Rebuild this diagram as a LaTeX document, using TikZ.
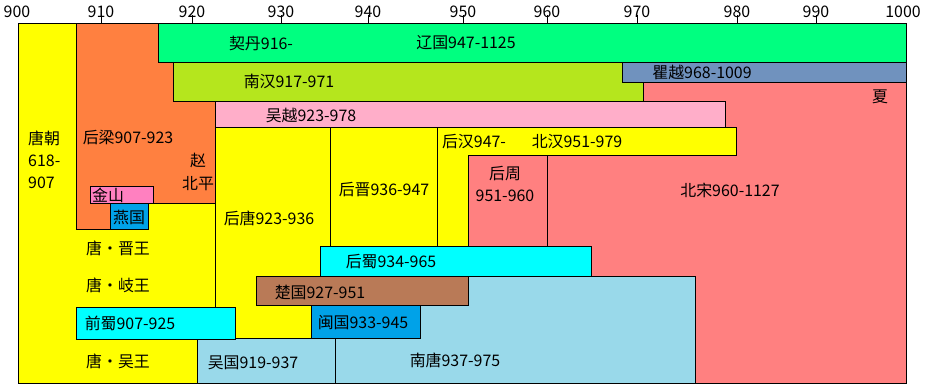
\documentclass[tikz,border=0pt]{standalone}
\usepackage{fontspec}
\setmainfont{Noto Sans CJK SC}
\definecolor{tangyellow}{HTML}{FFFF00}
\definecolor{liangorange}{HTML}{FF8040}
\definecolor{liaogreen}{HTML}{00FF80}
\definecolor{hanlime}{HTML}{B5E61D}
\definecolor{vietblue}{HTML}{7092BE}
\definecolor{wuyuepink}{HTML}{FFAEC9}
\definecolor{songred}{HTML}{FF8080}
\definecolor{jinshanpink}{HTML}{FF80C0}
\definecolor{yanblue}{HTML}{00A2E8}
\definecolor{shucyan}{HTML}{00FFFF}
\definecolor{chubrown}{HTML}{B97A57}
\definecolor{tanglightblue}{HTML}{99D9EA}
\tikzset{
  region/.style={draw=black, line width=0.8pt},
  tick/.style={line width=0.8pt},
  txt/.style={font=\fontsize{13.6pt}{19pt}\selectfont, inner sep=0pt},
  yeartxt/.style={font=\fontsize{13.6pt}{16pt}\selectfont, inner sep=0pt}
}
\begin{document}
\begin{tikzpicture}[x=0.03cm, y=-0.03cm]
  \useasboundingbox (0,0) rectangle (927,391);

  % Time axis
  \foreach \yr/\px in {900/17,910/101,920/192,930/281,940/368,950/463,960/547,970/637,980/737,990/816,1000/903}
    \node[yeartxt] (y\yr) at (\px,12) {\yr};

  % Tang background
  \filldraw[region, fill=tangyellow] (18,23) rectangle (906,383);

  % Northern Song
  \filldraw[region, fill=songred] (468,82) rectangle (906,383);

  % Later Liang
  \filldraw[region, fill=liangorange] (76,23) -- (215,23) -- (215,203) -- (110,203) -- (110,229) -- (76,229) -- cycle;

  % Khitan / Liao
  \filldraw[region, fill=liaogreen] (158,23) rectangle (906,62);

  % Southern Han and Dai Viet
  \filldraw[region, fill=hanlime] (173,62) rectangle (643,101);
  \filldraw[region, fill=vietblue] (622,62) rectangle (906,82);

  % Wuyue
  \filldraw[region, fill=wuyuepink] (215,101) rectangle (725,127);

  % Later Han / Northern Han
  \filldraw[region, fill=tangyellow] (437,127) -- (736,127) -- (736,155) -- (468,155) -- (468,246) -- (437,246) -- cycle;

  % Later Jin, Later Tang
  \filldraw[region, fill=tangyellow] (330,127) rectangle (437,246);
  \draw[region] (215,127) -- (215,307);

  % Later Zhou
  \filldraw[region, fill=songred] (468,155) rectangle (547,246);

  % Later Shu
  \filldraw[region, fill=shucyan] (320,246) rectangle (591,276);

  % Wu / Southern Tang
  \filldraw[region, fill=tanglightblue] (197,383) -- (197,338) -- (311,338) -- (311,276) -- (695,276) -- (695,383) -- cycle;
  \draw[region] (335,338) -- (335,383);

  % Chu, Min, Former Shu
  \filldraw[region, fill=chubrown] (256,276) rectangle (468,305);
  \filldraw[region, fill=yanblue] (311,305) rectangle (420,338);
  \filldraw[region, fill=shucyan] (76,307) rectangle (235,339);

  % Jinshan, Yan
  \filldraw[region, fill=jinshanpink] (90,186) rectangle (153,203);
  \filldraw[region, fill=yanblue] (110,203) rectangle (148,229);

  % Ticks on top of the frame
  \foreach \px in {101,192,281,368,463,547,637,737,816}
    \draw[tick] (\px,15) -- (\px,23);

  % Labels
  \node[txt, anchor=west, align=left] (tang) at (28,160) {唐朝\\618-\\907};
  \node[txt] (khitan) at (261,43) {契丹916-};
  \node[txt] (liao) at (466,43) {辽国947-1125};
  \node[txt] (nanhan) at (289,81) {南汉917-971};
  \node[txt] (viet) at (702,72) {瞿越968-1009};
  \node[txt] (xia) at (880,97) {夏};
  \node[txt] (wuyue) at (311,115) {吴越923-978};
  \node[txt] (houliang) at (128,137) {后梁907-923};
  \node[txt, align=center] (zhao) at (198,172) {赵\\北平};
  \node[txt] (jinshan) at (108,195) {金山};
  \node[txt] (yan) at (129,217) {燕国};
  \node[txt] (houtang) at (269,218) {后唐923-936};
  \node[txt] (houjin) at (384,190) {后晋936-947};
  \node[txt] (houhan) at (474,142) {后汉947-};
  \node[txt] (beihan) at (577,142) {北汉951-979};
  \node[txt, align=center] (houzhou) at (505,184) {后周\\951-960};
  \node[txt] (beisong) at (730,190) {北宋960-1127};
  \node[txt] (jinwang) at (118,248) {唐・晋王};
  \node[txt] (qiwang) at (118,285) {唐・岐王};
  \node[txt] (qianshu) at (130,323) {前蜀907-925};
  \node[txt] (wuwang) at (118,361) {唐・吴王};
  \node[txt] (wuguo) at (253,363) {吴国919-937};
  \node[txt] (nantang) at (455,360) {南唐937-975};
  \node[txt] (houshu) at (391,262) {后蜀934-965};
  \node[txt] (chu) at (320,292) {楚国927-951};
  \node[txt] (min) at (363,323) {闽国933-945};
\end{tikzpicture}
\end{document}
